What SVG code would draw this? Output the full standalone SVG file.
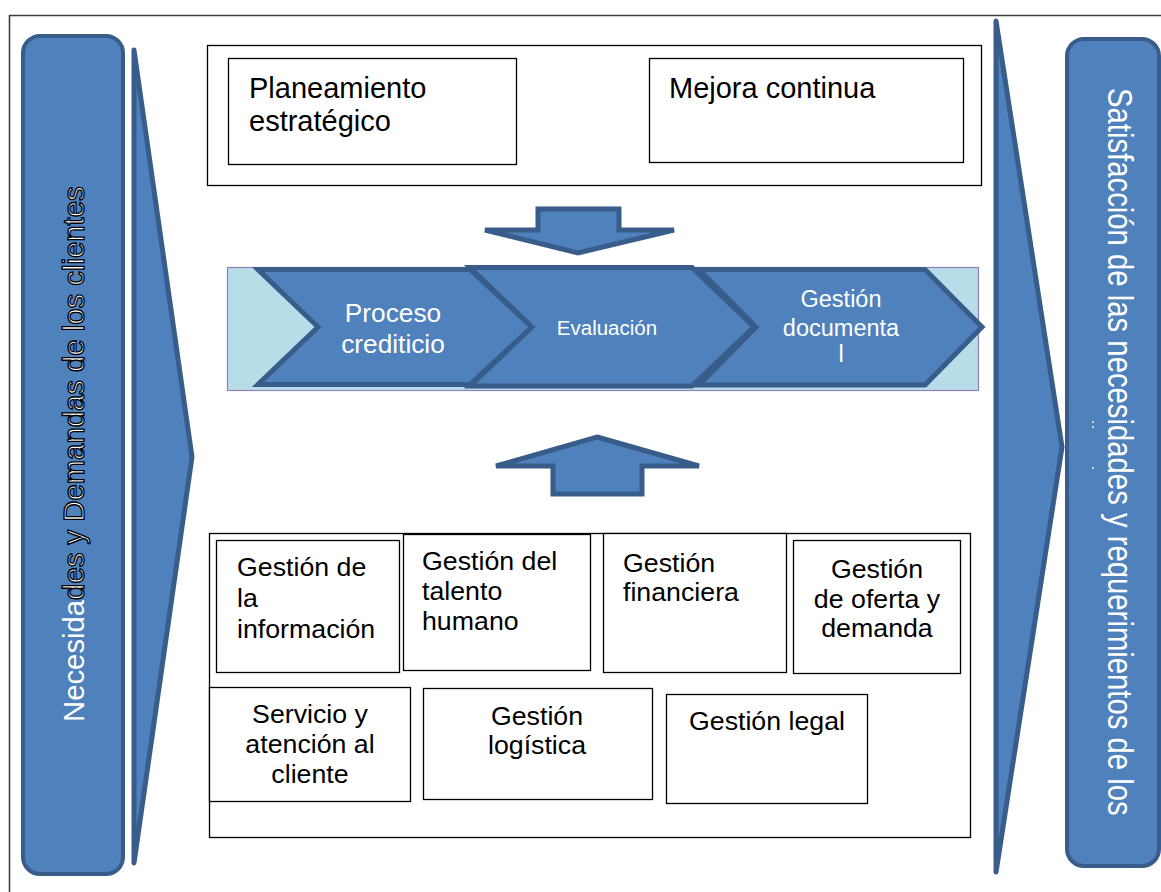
<svg xmlns="http://www.w3.org/2000/svg" width="1161" height="892" viewBox="0 0 1161 892">
  <style>
    .t { font-family: "Liberation Sans", Arial, sans-serif; }
    .dark { fill: #000; }
    .light { fill: #fff; }
    .box { fill: #fff; stroke: #000; stroke-width: 1.3; }
    .blue { fill: #4f81bd; stroke: #385d8a; }
    .outline { stroke: #000; stroke-width: 1.3; }
  </style>

  <!-- page background and frame -->
  <rect width="1161" height="892" fill="#fff"/>
  <path d="M9.5 892 V15.5 H1161" fill="none" stroke="#404040" stroke-width="1.6"/>

  <!-- left column: customer needs -->
  <g id="needs">
    <rect class="blue" x="23" y="36" width="100" height="838" rx="17" stroke-width="4"/>
    <text class="t light" transform="translate(83.5 722) rotate(-90) scale(1 1.03)" font-size="29.3">Necesida<tspan class="outline">des y Demandas de los clientes</tspan></text>
  </g>
  <g id="input-arrow">
    <polygon class="blue" points="134,50 192,457 134,863" stroke-width="5" stroke-linejoin="round"/>
  </g>

  <!-- right column: customer satisfaction -->
  <g id="output-arrow">
    <polygon class="blue" points="996,21 1062,447 996,872" stroke-width="5" stroke-linejoin="round"/>
  </g>
  <g id="satisfaction">
    <rect class="blue" x="1067" y="39" width="92" height="827" rx="17" stroke-width="4"/>
    <text class="t light" transform="translate(1108 88) rotate(90) scale(1 1.17)" font-size="29.3">Satisfacción de las necesidades y requerimientos de los</text>
    <circle cx="1093" cy="422" r="0.9" fill="#fff"/>
    <circle cx="1093" cy="427" r="0.9" fill="#fff"/>
    <circle cx="1093" cy="468" r="0.9" fill="#fff"/>
  </g>

  <!-- strategic processes -->
  <g id="strategic">
    <rect class="box" x="207.5" y="45.5" width="774" height="140"/>
  </g>
  <g id="planeamiento">
    <rect class="box" x="228.5" y="58.5" width="288" height="106"/>
    <text class="t dark" font-size="29"><tspan x="249" y="98">Planeamiento</tspan><tspan x="249" y="131">estratégico</tspan></text>
  </g>
  <g id="mejora">
    <rect class="box" x="649.5" y="58.5" width="314" height="104"/>
    <text class="t dark" font-size="29" x="669" y="98">Mejora continua</text>
  </g>

  <!-- core value chain -->
  <g id="core-band">
    <rect x="227.5" y="267.5" width="751" height="123" fill="#b7dde8" stroke="#8f80b8" stroke-width="1.2"/>
  </g>
  <g id="proceso">
    <polygon class="blue" points="258,269.5 470,269.5 532,327 470,384.5 258,384.5 318,327" stroke-width="5"/>
    <text class="t light" font-size="25" text-anchor="middle" transform="translate(393 0) scale(1.05 1)"><tspan x="0" y="322">Proceso</tspan><tspan x="0" y="353">crediticio</tspan></text>
  </g>
  <g id="evaluacion">
    <polygon class="blue" points="470,267.5 692,267.5 754,327 692,386 470,386 532,327" stroke-width="5"/>
    <text class="t light" font-size="20.5" text-anchor="middle" x="607" y="335">Evaluación</text>
  </g>
  <g id="documental">
    <polygon class="blue" points="699,269.5 925,269.5 982,327 925,385 699,385 756,327" stroke-width="5"/>
    <text class="t light" font-size="23.5" text-anchor="middle"><tspan x="841" y="307">Gestión</tspan><tspan x="841" y="336">documenta</tspan><tspan x="841" y="362">l</tspan></text>
  </g>

  <!-- flow arrows between layers -->
  <g id="connectors">
    <polygon class="blue" points="538,209 619,209 619,230 674,230 578,253 485,230 538,230" stroke-width="5" stroke-linejoin="miter"/>
    <polygon class="blue" points="597,437 699,466 642,466 642,494 553,494 553,466 496,466" stroke-width="5" stroke-linejoin="miter"/>
  </g>

  <!-- support processes -->
  <g id="support">
    <rect class="box" x="209.5" y="533.5" width="761" height="304"/>
  </g>
  <g id="informacion">
    <rect class="box" x="216.5" y="540.5" width="183" height="132"/>
    <text class="t dark" font-size="25" transform="translate(237 0) scale(1.07 1)"><tspan x="0" y="576">Gestión de</tspan><tspan x="0" y="607">la</tspan><tspan x="0" y="638">información</tspan></text>
  </g>
  <g id="talento">
    <rect class="box" x="403.5" y="534.5" width="187" height="136"/>
    <text class="t dark" font-size="25" transform="translate(422 0) scale(1.07 1)"><tspan x="0" y="570">Gestión del</tspan><tspan x="0" y="600">talento</tspan><tspan x="0" y="630">humano</tspan></text>
  </g>
  <g id="financiera">
    <rect class="box" x="603.5" y="533.5" width="183" height="139"/>
    <text class="t dark" font-size="25" transform="translate(623 0) scale(1.07 1)"><tspan x="0" y="572">Gestión</tspan><tspan x="0" y="601">financiera</tspan></text>
  </g>
  <g id="oferta">
    <rect class="box" x="793.5" y="540.5" width="167" height="133"/>
    <text class="t dark" font-size="25" text-anchor="middle" transform="translate(877 0) scale(1.07 1)"><tspan x="0" y="578">Gestión</tspan><tspan x="0" y="608">de oferta y</tspan><tspan x="0" y="637">demanda</tspan></text>
  </g>
  <g id="servicio">
    <rect class="box" x="209.5" y="687.5" width="201" height="114"/>
    <text class="t dark" font-size="25" text-anchor="middle" transform="translate(310 0) scale(1.07 1)"><tspan x="0" y="723">Servicio y</tspan><tspan x="0" y="753">atención al</tspan><tspan x="0" y="783">cliente</tspan></text>
  </g>
  <g id="logistica">
    <rect class="box" x="423.5" y="688.5" width="229" height="111"/>
    <text class="t dark" font-size="25" text-anchor="middle" transform="translate(537 0) scale(1.07 1)"><tspan x="0" y="725">Gestión</tspan><tspan x="0" y="754">logística</tspan></text>
  </g>
  <g id="legal">
    <rect class="box" x="666.5" y="694.5" width="201" height="109"/>
    <text class="t dark" font-size="25" text-anchor="middle" transform="translate(767 0) scale(1.07 1)" x="0" y="730">Gestión legal</text>
  </g>
</svg>
